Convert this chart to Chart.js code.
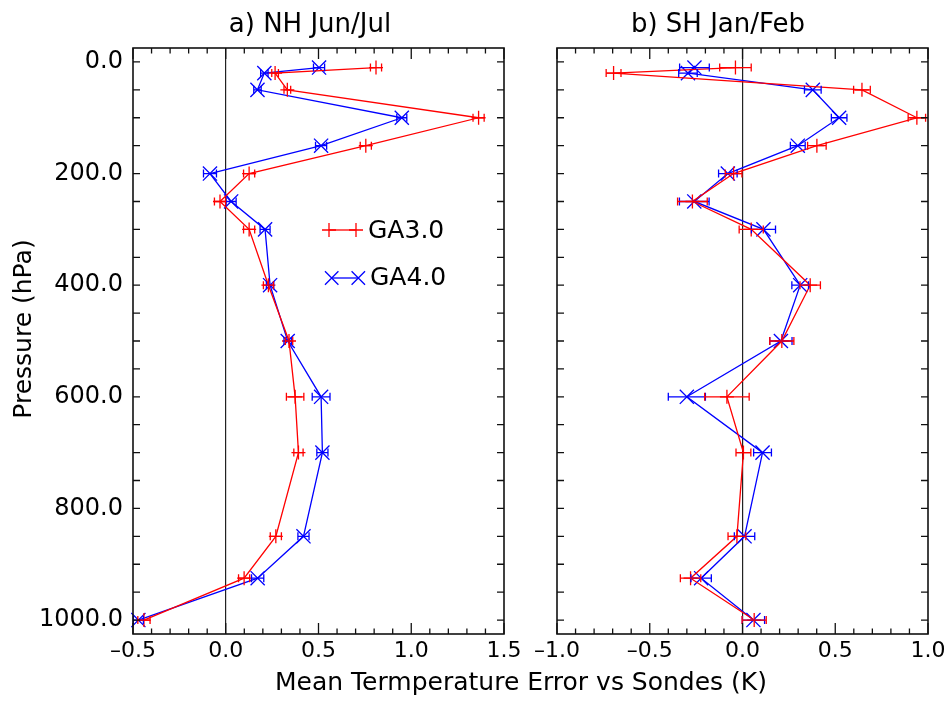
<!DOCTYPE html>
<html>
<head>
<meta charset="utf-8">
<script src="https://cdn.jsdelivr.net/npm/chart.js@4.4.1/dist/chart.umd.min.js"></script>
<style>
html,body{margin:0;padding:0;background:#fff;}
body{width:952px;height:711px;position:relative;overflow:hidden;font-family:"DejaVu Sans",sans-serif;color:#000;}
.c{position:absolute;top:0;height:711px;}
.t{position:absolute;white-space:nowrap;text-align:center;}
</style>
</head>
<body>
<div class="c" style="left:0;width:530px"><canvas id="cA" width="530" height="711"></canvas></div>
<div class="c" style="left:510px;width:442px"><canvas id="cB" width="442" height="711"></canvas></div>
<div class="t" style="left:160px;top:7px;width:300px;font-size:26px;line-height:32px;height:32px">a) NH Jun/Jul</div>
<div class="t" style="left:568px;top:7px;width:300px;font-size:26px;line-height:32px;height:32px">b) SH Jan/Feb</div>
<div class="t" style="left:221px;top:667px;width:600px;font-size:25px;line-height:30px;height:30px">Mean Termperature Error vs Sondes (K)</div>
<div class="t" style="left:-127px;top:314px;width:300px;font-size:25px;line-height:30px;height:30px;transform:rotate(-90deg);transform-origin:50% 50%">Pressure (hPa)</div>
<script>
// ---------------- data ----------------
const levels = [10, 20, 50, 100, 150, 200, 250, 300, 400, 500, 600, 700, 850, 925, 1000];
const seriesNames = ['GA3.0', 'GA4.0'];

// a) NH Jun/Jul
const nhGA30    = [0.81, 0.266, 0.332, 1.363, 0.755, 0.126, -0.031, 0.126, 0.230, 0.341, 0.374, 0.392, 0.270, 0.099, -0.441];
const nhGA30Err = [0.030, 0.018, 0.018, 0.030, 0.030, 0.030, 0.030, 0.030, 0.027, 0.020, 0.047, 0.025, 0.030, 0.030, 0.033];
const nhGA40    = [0.503, 0.208, 0.171, 0.949, 0.514, -0.085, 0.029, 0.212, 0.239, 0.334, 0.514, 0.521, 0.419, 0.172, -0.471];
const nhGA40Err = [0.030, 0.020, 0.020, 0.027, 0.030, 0.035, 0.027, 0.027, 0.020, 0.020, 0.048, 0.030, 0.030, 0.033, 0.027];

// b) SH Jan/Feb
const shGA30    = [-0.038, -0.695, 0.644, 0.940, 0.401, -0.048, -0.270, 0.047, 0.365, 0.212, -0.084, 0.005, -0.030, -0.280, 0.063];
const shGA30Err = [0.085, 0.040, 0.045, 0.047, 0.050, 0.045, 0.080, 0.065, 0.055, 0.065, 0.120, 0.040, 0.048, 0.055, 0.065];
const shGA40    = [-0.259, -0.294, 0.379, 0.521, 0.298, -0.079, -0.260, 0.113, 0.311, 0.207, -0.300, 0.108, 0.011, -0.223, 0.059];
const shGA40Err = [0.080, 0.050, 0.045, 0.042, 0.040, 0.050, 0.080, 0.065, 0.045, 0.060, 0.100, 0.048, 0.055, 0.055, 0.060];

// ticks / ranges
const nhXTicks = [-0.5, 0.0, 0.5, 1.0, 1.5];
const shXTicks = [-1.0, -0.5, 0.0, 0.5, 1.0];
const yTicks = [0, 200, 400, 600, 800, 1000];
const pressureMin = -25, pressureMax = 1025;
const xMinorStep = 0.1, xMajorStep = 0.5, yMinorStep = 50;

// ---------------- helpers ----------------
const FONT = "'DejaVu Sans', sans-serif";
const fmt = v => (v < 0 ? '\u2013' : '') + Math.abs(v).toFixed(1);

function drawMark(ctx, style, x, y, r) {
  ctx.beginPath();
  if (style === 'cross') {
    ctx.moveTo(x - r, y); ctx.lineTo(x + r, y);
    ctx.moveTo(x, y - r); ctx.lineTo(x, y + r);
  } else {
    const d = r * Math.SQRT1_2;
    ctx.moveTo(x - d, y - d); ctx.lineTo(x + d, y + d);
    ctx.moveTo(x - d, y + d); ctx.lineTo(x + d, y - d);
  }
  ctx.stroke();
}

const errorBarPlugin = {
  id: 'errorBars',
  afterDatasetsDraw(chart) {
    const ctx = chart.ctx, xs = chart.scales.x, ys = chart.scales.y;
    for (let di = chart.data.datasets.length - 1; di >= 0; di--) {
      const d = chart.data.datasets[di];
      ctx.save();
      ctx.strokeStyle = d.borderColor;
      ctx.lineWidth = 1.3;
      ctx.beginPath();
      d.data.forEach((p, i) => {
        const e = d.errors[i];
        const x0 = xs.getPixelForValue(p.x - e), x1 = xs.getPixelForValue(p.x + e);
        const py = ys.getPixelForValue(p.y);
        ctx.moveTo(x0, py); ctx.lineTo(x1, py);
        ctx.moveTo(x0, py - 4); ctx.lineTo(x0, py + 4);
        ctx.moveTo(x1, py - 4); ctx.lineTo(x1, py + 4);
      });
      ctx.stroke();
      ctx.restore();
    }
  }
};

const framePlugin = {
  id: 'frame',
  afterDraw(chart) {
    const ctx = chart.ctx, a = chart.chartArea, xs = chart.scales.x, ys = chart.scales.y;
    ctx.save();
    ctx.strokeStyle = '#111';
    ctx.lineWidth = 1.3;
    ctx.beginPath();
    const n = Math.round((xs.max - xs.min) / xMinorStep);
    for (let k = 0; k <= n; k++) {
      const v = xs.min + k * xMinorStep;
      const px = xs.getPixelForValue(v);
      const q = v / xMajorStep;
      const L = Math.abs(q - Math.round(q)) < 1e-6 ? 11 : 5.5;
      ctx.moveTo(px, a.bottom); ctx.lineTo(px, a.bottom - L);
      ctx.moveTo(px, a.top); ctx.lineTo(px, a.top + L);
    }
    for (let v = yTicks[0]; v <= yTicks[yTicks.length - 1]; v += yMinorStep) {
      const py = ys.getPixelForValue(v);
      ctx.moveTo(a.left, py); ctx.lineTo(a.left + 7, py);
      ctx.moveTo(a.right, py); ctx.lineTo(a.right - 7, py);
    }
    ctx.stroke();
    ctx.lineWidth = 1.6;
    ctx.strokeRect(a.left, a.top, a.right - a.left, a.bottom - a.top);
    ctx.restore();
  }
};

const legendPlugin = {
  id: 'insetLegend',
  afterDraw(chart, args, opts) {
    if (!opts || !opts.show) return;
    const ctx = chart.ctx, a = chart.chartArea;
    const rows = [
      {ds: chart.data.datasets[0], y: 182, m1: 196, m2: 223, r: 7, tx: 235, ty: 189.5},
      {ds: chart.data.datasets[1], y: 230, m1: 198.7, m2: 225.3, r: 9.5, tx: 237, ty: 237}
    ];
    ctx.save();
    rows.forEach(row => {
      const d = row.ds;
      ctx.strokeStyle = d.borderColor;
      ctx.lineWidth = 1.3;
      ctx.beginPath();
      ctx.moveTo(a.left + row.m1, a.top + row.y);
      ctx.lineTo(a.left + row.m2, a.top + row.y);
      ctx.stroke();
      drawMark(ctx, d.pointStyle, a.left + row.m1, a.top + row.y, row.r);
      drawMark(ctx, d.pointStyle, a.left + row.m2, a.top + row.y, row.r);
      ctx.fillStyle = '#000';
      ctx.font = '25px ' + FONT;
      ctx.textAlign = 'left';
      ctx.textBaseline = 'alphabetic';
      ctx.fillText(d.label, a.left + row.tx, a.top + row.ty);
    });
    ctx.restore();
  }
};

function dataset(label, vals, errs, color, style, r) {
  return {
    label: label,
    data: vals.map((v, i) => ({x: v, y: levels[i]})),
    errors: errs,
    showLine: true,
    borderColor: color,
    backgroundColor: color,
    borderWidth: 1.3,
    pointStyle: style,
    pointRadius: r,
    pointHoverRadius: r,
    pointBorderWidth: 1.3,
    pointBorderColor: color,
    tension: 0,
    fill: false,
    clip: false
  };
}

function makeChart(id, p) {
  return new Chart(document.getElementById(id), {
    type: 'scatter',
    data: {
      datasets: [
        dataset(seriesNames[0], p.ga30, p.ga30Err, '#ff0000', 'cross', 7),
        dataset(seriesNames[1], p.ga40, p.ga40Err, '#0000ff', 'crossRot', 10)
      ]
    },
    options: {
      responsive: false,
      animation: false,
      devicePixelRatio: 1,
      events: [],
      layout: {padding: {left: 0, top: 48, right: p.padRight, bottom: 0}},
      plugins: {
        legend: {display: false},
        tooltip: {enabled: false},
        title: {display: false},
        insetLegend: {show: p.legend}
      },
      scales: {
        x: {
          type: 'linear',
          min: p.xTicks[0],
          max: p.xTicks[p.xTicks.length - 1],
          afterBuildTicks: s => { s.ticks = p.xTicks.map(v => ({value: v})); },
          afterFit: s => { s.height = 77; },
          ticks: {
            color: '#000',
            font: {family: FONT, size: 22},
            padding: 4,
            maxRotation: 0,
            autoSkip: false,
            callback: v => fmt(v)
          },
          grid: {
            drawTicks: false,
            lineWidth: 1.2,
            color: c => (c.tick && Math.abs(c.tick.value) < 1e-9) ? '#222' : 'rgba(0,0,0,0)'
          },
          border: {display: false}
        },
        y: {
          type: 'linear',
          reverse: true,
          min: pressureMin,
          max: pressureMax,
          afterBuildTicks: s => { s.ticks = yTicks.map(v => ({value: v})); },
          afterFit: s => { s.width = p.yWidth; },
          ticks: {
            display: p.yLabels,
            color: '#000',
            font: {family: FONT, size: 24},
            padding: 10,
            autoSkip: false,
            callback: v => v.toFixed(1)
          },
          grid: {display: false, drawTicks: false},
          border: {display: false}
        }
      }
    },
    plugins: [errorBarPlugin, framePlugin, legendPlugin]
  });
}

makeChart('cA', {ga30: nhGA30, ga30Err: nhGA30Err, ga40: nhGA40, ga40Err: nhGA40Err,
                 xTicks: nhXTicks, padRight: 26, yWidth: 133, yLabels: true, legend: true});
makeChart('cB', {ga30: shGA30, ga30Err: shGA30Err, ga40: shGA40, ga40Err: shGA40Err,
                 xTicks: shXTicks, padRight: 24, yWidth: 47, yLabels: false, legend: false});
</script>
</body>
</html>
